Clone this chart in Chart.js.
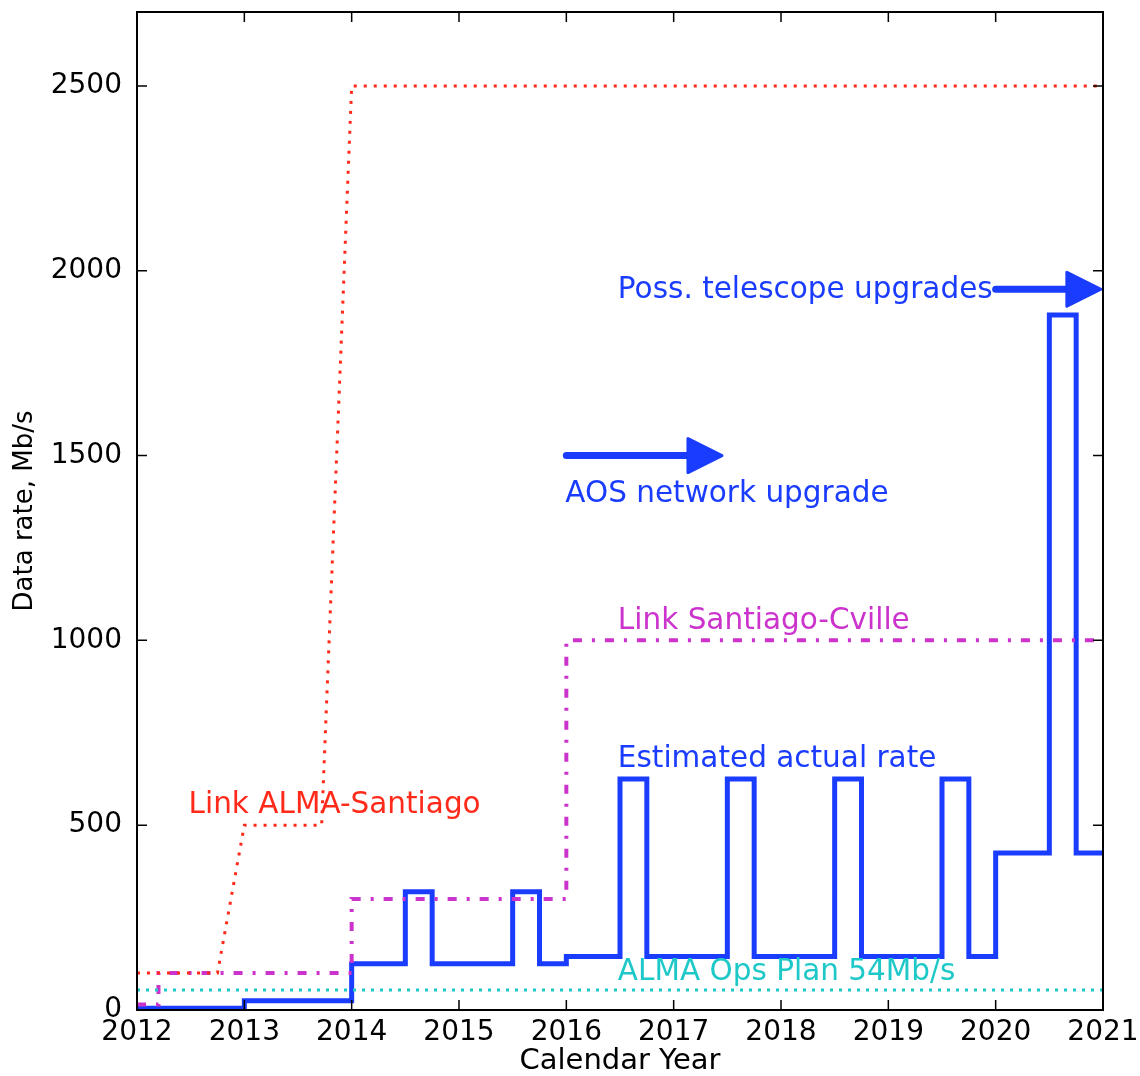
<!DOCTYPE html>
<html>
<head>
<meta charset="utf-8">
<script src="https://cdn.jsdelivr.net/npm/chart.js@4/dist/chart.umd.min.js"></script>
<style>
  html, body { margin: 0; padding: 0; background: #fff; }
  #wrap { width: 1140px; height: 1076px; }
</style>
</head>
<body>
<div id="wrap"><canvas id="rateChart"></canvas></div>
<script>
// data
let almaYears = [2012, 2012.75, 2013, 2013.72, 2014, 2021];
let almaRate = [100, 100, 500, 500, 2500, 2500];

let cvilleYears = [2012, 2012.2, 2014, 2016, 2021];
let cvilleRate = [15, 100, 300, 1000, 1000];

let opsYears = [2012, 2021];
let opsRate = [54, 54];

let actualYears = [2012, 2013, 2014, 2014.5, 2014.75, 2015.5, 2015.75, 2016, 2016.5, 2016.75,
                   2017.5, 2017.75, 2018.5, 2018.75, 2019.5, 2019.75, 2020, 2020.5, 2020.75, 2021];
let actualRate = [5, 25, 125, 320, 125, 320, 125, 145, 625, 145,
                  625, 145, 625, 145, 625, 145, 425, 1880, 425, 425];

let yearTicks = [2012, 2013, 2014, 2015, 2016, 2017, 2018, 2019, 2020, 2021];
let rateTicks = [0, 500, 1000, 1500, 2000, 2500];

// text labels, in data units
let labels = [
    { text: 'Link ALMA-Santiago', x: 2012.48, y: 555, color: '#ff2a1a' },
    { text: 'Link Santiago-Cville', x: 2016.48, y: 1052, color: '#cc33cc' },
    { text: 'Estimated actual rate', x: 2016.48, y: 679, color: '#1a3cff' },
    { text: 'ALMA Ops Plan 54Mb/s', x: 2016.48, y: 103, color: '#1fc8c8' },
    { text: 'Poss. telescope upgrades', x: 2016.48, y: 1948, color: '#1a3cff' },
    { text: 'AOS network upgrade', x: 2015.99, y: 1396, color: '#1a3cff' }
];

// arrows: start year, tip year, rate
let arrows = [
    { x0: 2016.0, x1: 2017.45, y: 1500 },
    { x0: 2020.0, x1: 2020.98, y: 1950 }
];

function toPoints(xs, ys) {
    return xs.map((x, i) => ({ x: x, y: ys[i] }));
}

const FONT = '"DejaVu Sans", sans-serif';

const decorPlugin = {
    id: 'decor',
    afterDatasetsDraw(chart) {
        let ctx = chart.ctx;
        let xs = chart.scales.x, ys = chart.scales.y;
        ctx.save();
        // arrows
        ctx.fillStyle = '#1a3cff';
        ctx.strokeStyle = '#1a3cff';
        arrows.forEach(a => {
            let px0 = xs.getPixelForValue(a.x0);
            let px1 = xs.getPixelForValue(a.x1);
            let py = ys.getPixelForValue(a.y);
            let headLen = 34, half = 17;
            ctx.lineWidth = 7;
            ctx.lineCap = 'round';
            ctx.beginPath();
            ctx.moveTo(px0, py);
            ctx.lineTo(px1 - headLen + 2, py);
            ctx.stroke();
            ctx.lineJoin = 'round';
            ctx.lineWidth = 3;
            ctx.beginPath();
            ctx.moveTo(px1 - headLen, py - half);
            ctx.lineTo(px1, py);
            ctx.lineTo(px1 - headLen, py + half);
            ctx.closePath();
            ctx.fill();
            ctx.stroke();
        });
        // labels
        ctx.font = '29.5px ' + FONT;
        ctx.textAlign = 'left';
        ctx.textBaseline = 'middle';
        labels.forEach(l => {
            ctx.fillStyle = l.color;
            ctx.fillText(l.text, xs.getPixelForValue(l.x), ys.getPixelForValue(l.y));
        });
        ctx.restore();
    },
    afterDraw(chart) {
        let ctx = chart.ctx;
        let a = chart.chartArea;
        let xs = chart.scales.x, ys = chart.scales.y;
        ctx.save();
        ctx.strokeStyle = '#000';
        // inward ticks on all sides
        ctx.lineWidth = 1.5;
        ctx.beginPath();
        yearTicks.forEach(v => {
            let px = xs.getPixelForValue(v);
            ctx.moveTo(px, a.bottom); ctx.lineTo(px, a.bottom - 10);
            ctx.moveTo(px, a.top); ctx.lineTo(px, a.top + 10);
        });
        rateTicks.forEach(v => {
            let py = ys.getPixelForValue(v);
            ctx.moveTo(a.left, py); ctx.lineTo(a.left + 10, py);
            ctx.moveTo(a.right, py); ctx.lineTo(a.right - 10, py);
        });
        ctx.stroke();
        // frame
        ctx.lineWidth = 2;
        ctx.strokeRect(a.left, a.top, a.right - a.left, a.bottom - a.top);
        ctx.restore();
    }
};

var ctx = document.getElementById('rateChart').getContext('2d');
var rateChart = new Chart(ctx, {
    type: 'line',
    data: {
        datasets: [{
            label: 'ALMA Ops Plan',
            data: toPoints(opsYears, opsRate),
            borderColor: '#1fc8c8',
            borderWidth: 3,
            borderDash: [3, 6]
        },
        {
            label: 'Link ALMA-Santiago',
            data: toPoints(almaYears, almaRate),
            borderColor: '#ff2a1a',
            borderWidth: 3,
            borderDash: [3, 7]
        },
        {
            label: 'Link Santiago-Cville',
            data: toPoints(cvilleYears, cvilleRate),
            borderColor: '#cc33cc',
            borderWidth: 4,
            borderDash: [9, 10, 3, 10],
            stepped: 'before'
        },
        {
            label: 'Estimated actual rate',
            data: toPoints(actualYears, actualRate),
            borderColor: '#1a3cff',
            borderWidth: 5,
            stepped: 'before'
        }]
    },
    options: {
        responsive: true,
        maintainAspectRatio: false,
        animation: false,
        events: [],
        layout: { padding: { top: 12, right: 37, left: 0, bottom: 0 } },
        elements: { point: { radius: 0 }, line: { tension: 0, fill: false } },
        plugins: { legend: { display: false }, tooltip: { enabled: false } },
        scales: {
            x: {
                type: 'linear',
                min: 2012,
                max: 2021,
                grid: { display: false, drawTicks: false },
                border: { display: false },
                afterBuildTicks: s => { s.ticks = yearTicks.map(v => ({ value: v })); },
                afterFit: s => { s.height = 66; s.paddingLeft = 0; s.paddingRight = 0; },
                ticks: {
                    color: '#000',
                    padding: 6,
                    maxRotation: 0,
                    font: { family: FONT, size: 28 },
                    callback: v => String(v)
                },
                title: {
                    display: true,
                    text: 'Calendar Year',
                    color: '#000',
                    padding: { top: 0, bottom: 0 },
                    font: { family: FONT, size: 29, lineHeight: 1.0 }
                }
            },
            y: {
                min: 0,
                max: 2700,
                grid: { display: false, drawTicks: false },
                border: { display: false },
                afterBuildTicks: s => { s.ticks = rateTicks.map(v => ({ value: v })); },
                afterFit: s => { s.width = 137; s.paddingTop = 0; s.paddingBottom = 0; },
                ticks: {
                    color: '#000',
                    padding: 15,
                    font: { family: FONT, size: 28 },
                    callback: v => String(v)
                },
                title: {
                    display: true,
                    text: 'Data rate, Mb/s',
                    color: '#000',
                    padding: { top: 10, bottom: 0 },
                    font: { family: FONT, size: 26 }
                }
            }
        }
    },
    plugins: [decorPlugin]
});
</script>
</body>
</html>
